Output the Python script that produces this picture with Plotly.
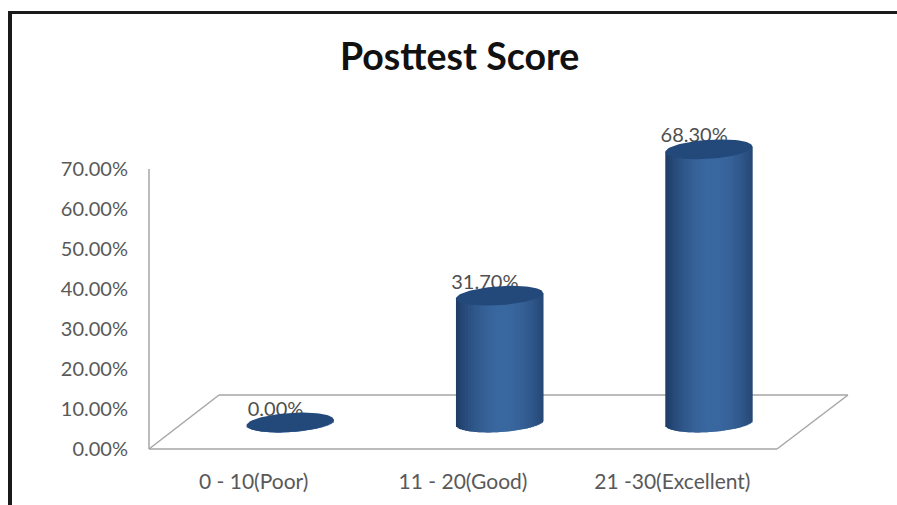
import numpy as np
import plotly.graph_objects as go

W, H = 897, 505

# Chart content
title = "Posttest Score"
categories = ["0 - 10(Poor)", "11 - 20(Good)", "21 -30(Excellent)"]
scores = [0.0, 31.7, 68.3]
score_labels = ["0.00%", "31.70%", "68.30%"]
y_ticks = [0, 10, 20, 30, 40, 50, 60, 70]
y_tick_labels = ["0.00%", "10.00%", "20.00%", "30.00%", "40.00%", "50.00%", "60.00%", "70.00%"]

# Pixel geometry of the pseudo-3D box
PLOT_L, PLOT_R = 149, 777
PLOT_T, PLOT_B = 169, 449
DEPTH_X, DEPTH_Y = 70, 54
BAR_DX, BAR_DY = 36.5, 26.5  # cylinders stand in the middle of the floor
BAR_W = 0.416                # in category units
B_PX, TILT_PX = 9.5, 2.8     # ellipse half height and shear

PX_PER_UNIT_Y = (PLOT_B - PLOT_T) / 70
B = B_PX / PX_PER_UNIT_Y
TILT = TILT_PX / PX_PER_UNIT_Y
Y2_MIN, Y2_MAX = -10, 80  # room below and above for rims and labels


def px(x):
    return x / W


def py(y):
    return 1 - y / H


def shade(t):
    """Cylinder colour across its width, t running from -1 to 1."""
    dark = np.array([30, 60, 102])
    light = np.array([58, 104, 160])
    k = np.clip(1 - ((t - 0.08) / 1.08) ** 2, 0, 1)
    c = dark + (light - dark) * k
    return "rgb(%d,%d,%d)" % tuple(c)


positions = list(range(len(categories)))
fig = go.Figure()

# Empty trace that keeps the labelled axes on the page
fig.add_trace(go.Scatter(x=[0], y=[0], mode="markers", marker=dict(opacity=0),
                         xaxis="x", yaxis="y", hoverinfo="skip", showlegend=False))

# Each cylinder body is a run of narrow bars, shaded left to right,
# whose base follows the lower rim of the ellipse. Every strip runs under
# its right neighbour so no seams show.
N_STRIPS = 58
edges = np.linspace(-1, 1, N_STRIPS + 1)
step = edges[1] - edges[0]
for a in edges[:-1]:
    t = a + step / 2
    right = min(a + 2 * step, 1.0)
    lower = -B * np.sqrt(1 - t * t) + TILT * t
    upper = TILT * t
    fig.add_trace(go.Bar(
        x=positions,
        y=[v + upper - lower for v in scores],
        base=[lower] * len(scores),
        offset=a * BAR_W / 2,
        width=(right - a) * BAR_W / 2,
        marker=dict(color=shade(t), line=dict(width=0)),
        xaxis="x2", yaxis="y2", hoverinfo="skip", showlegend=False,
    ))

# Value labels sit just behind the top rims
fig.add_trace(go.Scatter(
    x=[p - 0.07 for p in positions],
    y=[v + 3.0 for v in scores],
    text=score_labels,
    mode="text",
    textposition="middle center",
    textfont=dict(family="Lato", size=20, color="#4f4f4f"),
    xaxis="x2", yaxis="y2", hoverinfo="skip", showlegend=False,
))

# Top rims
theta = np.linspace(0, 2 * np.pi, 90)
for p, v in zip(positions, scores):
    fig.add_trace(go.Scatter(
        x=p + np.cos(theta) * BAR_W / 2,
        y=v + np.sin(theta) * B + np.cos(theta) * TILT,
        mode="lines", fill="toself",
        fillcolor="#23497b", line=dict(width=0, color="#23497b"),
        xaxis="x2", yaxis="y2", hoverinfo="skip", showlegend=False,
    ))

grey = "#a6a6a6"
floor = [
    (PLOT_L, PLOT_B, PLOT_R, PLOT_B),
    (PLOT_L, PLOT_B, PLOT_L + DEPTH_X, PLOT_B - DEPTH_Y),
    (PLOT_R, PLOT_B, PLOT_R + DEPTH_X + 1, PLOT_B - DEPTH_Y),
    (PLOT_L + DEPTH_X, PLOT_B - DEPTH_Y, PLOT_R + DEPTH_X + 1, PLOT_B - DEPTH_Y),
    (PLOT_L, PLOT_T, PLOT_L, PLOT_B),
]
shapes = [
    dict(type="line", xref="paper", yref="paper", layer="below",
         x0=px(x0), y0=py(y0), x1=px(x1), y1=py(y1),
         line=dict(color=grey, width=1.5))
    for x0, y0, x1, y1 in floor
]

# Outer frame, cut off by the page on the right and bottom
shapes += [
    dict(type="line", xref="paper", yref="paper", layer="below",
         x0=px(8), y0=py(12.5), x1=px(W), y1=py(12.5),
         line=dict(color="#1a1a1a", width=3)),
    dict(type="line", xref="paper", yref="paper", layer="below",
         x0=px(10), y0=py(11), x1=px(10), y1=py(H),
         line=dict(color="#1a1a1a", width=4)),
]

fig.update_layout(
    width=W, height=H,
    margin=dict(l=0, r=0, t=0, b=0),
    paper_bgcolor="white", plot_bgcolor="rgba(0,0,0,0)",
    barmode="overlay",
    showlegend=False,
    shapes=shapes,
    annotations=[dict(
        text="<b>%s</b>" % title, xref="paper", yref="paper",
        x=px(460), y=py(56), xanchor="center", yanchor="middle", showarrow=False,
        font=dict(family="Lato", size=37.5, color="#111111"),
    )],
    xaxis=dict(
        domain=[px(PLOT_L), px(PLOT_R)], range=[-0.5, 2.5],
        tickmode="array", tickvals=positions, ticktext=categories,
        showgrid=False, zeroline=False, showline=False, ticks="",
        ticklabelstandoff=18, automargin=False,
        tickfont=dict(family="Lato", size=21, color="#595959"),
        anchor="y",
    ),
    yaxis=dict(
        domain=[py(PLOT_B), py(PLOT_T)], range=[0, 70],
        tickmode="array", tickvals=y_ticks, ticktext=y_tick_labels,
        showgrid=False, zeroline=False, showline=False, ticks="",
        ticklabelstandoff=20, automargin=False,
        tickfont=dict(family="Lato", size=20, color="#595959"),
        anchor="x",
    ),
    # Overlay axes carrying the cylinders, shifted into the depth of the box
    xaxis2=dict(
        domain=[px(PLOT_L + BAR_DX), px(PLOT_R + BAR_DX)], range=[-0.5, 2.5],
        visible=False, anchor="y2", automargin=False,
    ),
    yaxis2=dict(
        domain=[py(PLOT_B - BAR_DY - Y2_MIN * PX_PER_UNIT_Y),
                py(PLOT_B - BAR_DY - Y2_MAX * PX_PER_UNIT_Y)],
        range=[Y2_MIN, Y2_MAX],
        visible=False, anchor="x2", automargin=False,
    ),
)

fig.write_html("out.html")
